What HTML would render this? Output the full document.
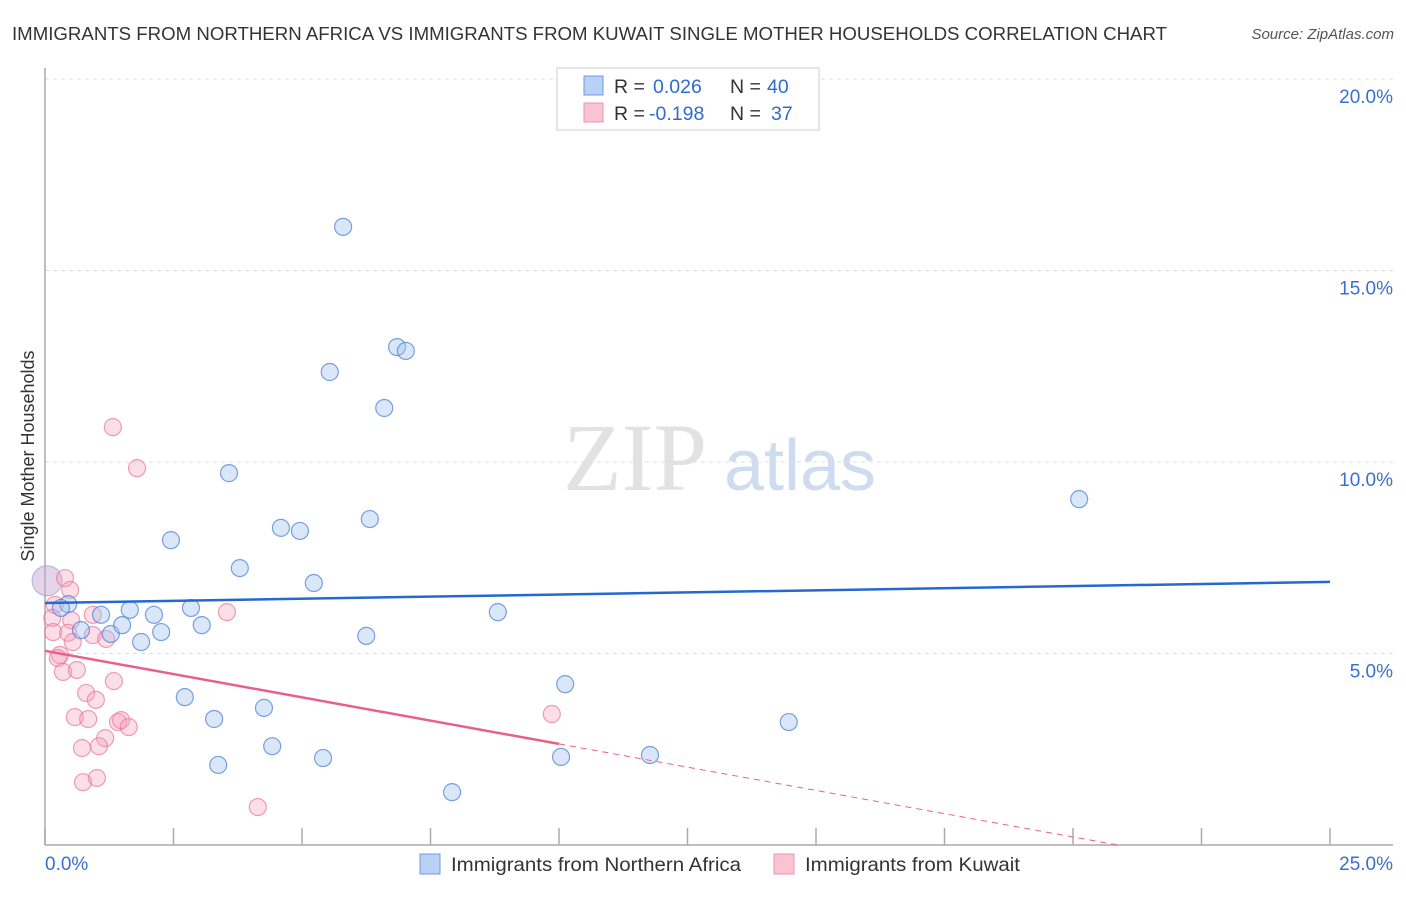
<!DOCTYPE html>
<html><head><meta charset="utf-8"><style>
body{margin:0;background:#fff;font-family:"Liberation Sans",sans-serif;}
svg text{font-family:"Liberation Sans",sans-serif;}
</style></head><body>
<svg id="chart" width="1406" height="892">
<text x="12" y="40" font-size="18" fill="#333" textLength="1155" lengthAdjust="spacingAndGlyphs">IMMIGRANTS FROM NORTHERN AFRICA VS IMMIGRANTS FROM KUWAIT SINGLE MOTHER HOUSEHOLDS CORRELATION CHART</text>
<text x="1394" y="39" font-size="15" fill="#555" font-style="italic" text-anchor="end">Source: ZipAtlas.com</text>
<g>
<text x="635" y="490" font-size="96" fill="#e2e2e2" text-anchor="middle" font-family="Liberation Serif" style="font-family:'Liberation Serif',serif">ZIP</text>
<text x="800" y="490" font-size="72" fill="#cfdcf0" text-anchor="middle">atlas</text>
</g>
<g id="grid"></g>
<g id="axes"></g>
<g id="marks"></g>
<g>
<rect x="557" y="68" width="262" height="62" fill="#fff" stroke="#ccc"/>
<rect x="584" y="76" width="19" height="19" fill="#b9d1f5" stroke="#6d9be0"/>
<rect x="584" y="103" width="19" height="19" fill="#f9c3d2" stroke="#e895ad"/>
<text x="614" y="93" font-size="19.5" fill="#333">R = </text>
<text x="653" y="93" font-size="19.5" fill="#2f6bd1">0.026</text>
<text x="730" y="93" font-size="19.5" fill="#333">N = </text>
<text x="767" y="93" font-size="19.5" fill="#2f6bd1">40</text>
<text x="614" y="120" font-size="19.5" fill="#333">R = </text>
<text x="649" y="120" font-size="19.5" fill="#2f6bd1">-0.198</text>
<text x="730" y="120" font-size="19.5" fill="#333">N = </text>
<text x="771" y="120" font-size="19.5" fill="#2f6bd1">37</text>
</g>
<g>
<rect x="420" y="854" width="20" height="20" fill="#b9d1f5" stroke="#6d9be0"/>
<text x="451" y="871" font-size="19.5" fill="#333" textLength="290" lengthAdjust="spacingAndGlyphs">Immigrants from Northern Africa</text>
<rect x="774" y="854" width="20" height="20" fill="#f9c3d2" stroke="#e895ad"/>
<text x="805" y="871" font-size="19.5" fill="#333" textLength="215" lengthAdjust="spacingAndGlyphs">Immigrants from Kuwait</text>
</g>
<text transform="translate(34,456) rotate(-90)" font-size="18" fill="#333" text-anchor="middle">Single Mother Households</text>
</svg>
<script>
const yTicks=[5,10,15,20];
const yTickLabels=["5.0%","10.0%","15.0%","20.0%"];
const xTickValues=[0,2.5,5,7.5,10,12.5,15,17.5,20,22.5,25];
const xEndLabels=["0.0%","25.0%"];
const blueX=[5.80,6.85,7.02,5.54,6.60,3.58,20.12,6.32,2.45,4.59,4.96,3.79,5.23,0.45,0.31,1.09,1.65,2.12,2.84,8.81,0.70,1.28,1.50,2.26,3.05,1.87,6.25,2.72,4.26,3.29,10.12,14.47,4.42,3.37,5.41,10.04,11.77,7.92];
const blueY=[16.14,13.00,12.90,12.35,11.41,9.71,9.03,8.51,7.96,8.28,8.20,7.23,6.84,6.29,6.19,6.01,6.14,6.01,6.19,6.08,5.61,5.51,5.74,5.56,5.74,5.30,5.46,3.86,3.58,3.29,4.20,3.21,2.58,2.09,2.27,2.30,2.35,1.38];
const pinkX=[1.32,1.79,0.39,0.49,0.19,0.14,0.51,0.93,3.54,0.16,0.45,0.93,1.19,0.54,0.29,0.25,0.35,0.62,1.34,0.80,0.99,0.58,0.84,1.42,1.48,1.63,1.17,0.72,1.05,0.74,1.01,4.14,9.86];
const pinkY=[10.91,9.84,6.97,6.66,6.27,5.93,5.87,6.01,6.08,5.56,5.54,5.48,5.38,5.30,4.96,4.88,4.52,4.57,4.28,3.97,3.79,3.34,3.29,3.21,3.26,3.08,2.79,2.53,2.58,1.64,1.75,0.99,3.42];
const bigPoint=[0.04,6.9];
const blueTrend=[6.32,6.87];
const pinkTrend=[5.07,-0.243];
const pinkSolidEnd=10;
const NS="http://www.w3.org/2000/svg";
const X0=45,X1=1330,Y0=845,Y1=79;
const sx=v=>X0+(v/25)*(X1-X0);
const sy=v=>Y0-(v/20)*(Y0-Y1);
function mk(tag,attrs,parent){const e=document.createElementNS(NS,tag);for(const k in attrs)e.setAttribute(k,attrs[k]);parent.appendChild(e);return e;}
const grid=document.getElementById('grid'),axes=document.getElementById('axes'),marks=document.getElementById('marks');
yTicks.forEach((t,i)=>{
 const l=mk('line',{x1:X0,x2:1393,y1:sy(t),y2:sy(t),stroke:'#ddd','stroke-dasharray':'4,4'},grid);
 
 
 const tx=mk('text',{x:1393,y:sy(t)+24,'font-size':19,fill:'#3a6fd0','text-anchor':'end'},axes);
 tx.textContent=yTickLabels[i];
 
 
});
const ya=mk('line',{x1:X0,x2:X0,y1:68,y2:Y0,stroke:'#aaa','stroke-width':1.5},axes);


const xa=mk('line',{x1:X0,x2:1393,y1:Y0,y2:Y0,stroke:'#aaa','stroke-width':1.5},axes);


xTickValues.forEach(v=>{
 const t=mk('line',{x1:sx(v),x2:sx(v),y1:828,y2:Y0,stroke:'#aaa','stroke-width':1.5},axes);
 
 
});
[[0,'start',45],[25,'end',1393]].forEach((d,i)=>{
 const t=mk('text',{x:d[2],y:870,'font-size':19,fill:'#3a6fd0','text-anchor':d[1]},axes);
 t.textContent=xEndLabels[i];
 
 
});
const bb=mk('circle',{cx:sx(bigPoint[0]),cy:sy(bigPoint[1]),r:15,fill:'rgba(200,170,210,0.5)',stroke:'rgba(160,150,210,0.7)'},marks);


pinkX.forEach((x,i)=>{
 const c=mk('circle',{cx:sx(x),cy:sy(pinkY[i]),r:8.5,fill:'rgba(245,160,185,0.35)',stroke:'rgba(230,120,155,0.7)','stroke-width':1.2},marks);
 
 
});
blueX.forEach((x,i)=>{
 const c=mk('circle',{cx:sx(x),cy:sy(blueY[i]),r:8.5,fill:'rgba(160,195,240,0.4)',stroke:'rgba(80,130,215,0.75)','stroke-width':1.2},marks);
 
 
});
const bt=mk('line',{x1:sx(0),y1:sy(blueTrend[0]),x2:sx(25),y2:sy(blueTrend[1]),stroke:'#2468d0','stroke-width':2.5},marks);


const pf=x=>pinkTrend[0]+pinkTrend[1]*x;
const pt=mk('line',{x1:sx(0),y1:sy(pf(0)),x2:sx(pinkSolidEnd),y2:sy(pf(pinkSolidEnd)),stroke:'#e8608a','stroke-width':2.5},marks);


const xz=-pinkTrend[0]/pinkTrend[1];
const pd=mk('line',{x1:sx(pinkSolidEnd),y1:sy(pf(pinkSolidEnd)),x2:sx(xz),y2:sy(0),stroke:'#e8608a','stroke-width':1,'stroke-dasharray':'6,5'},marks);


</script>
</body></html>
